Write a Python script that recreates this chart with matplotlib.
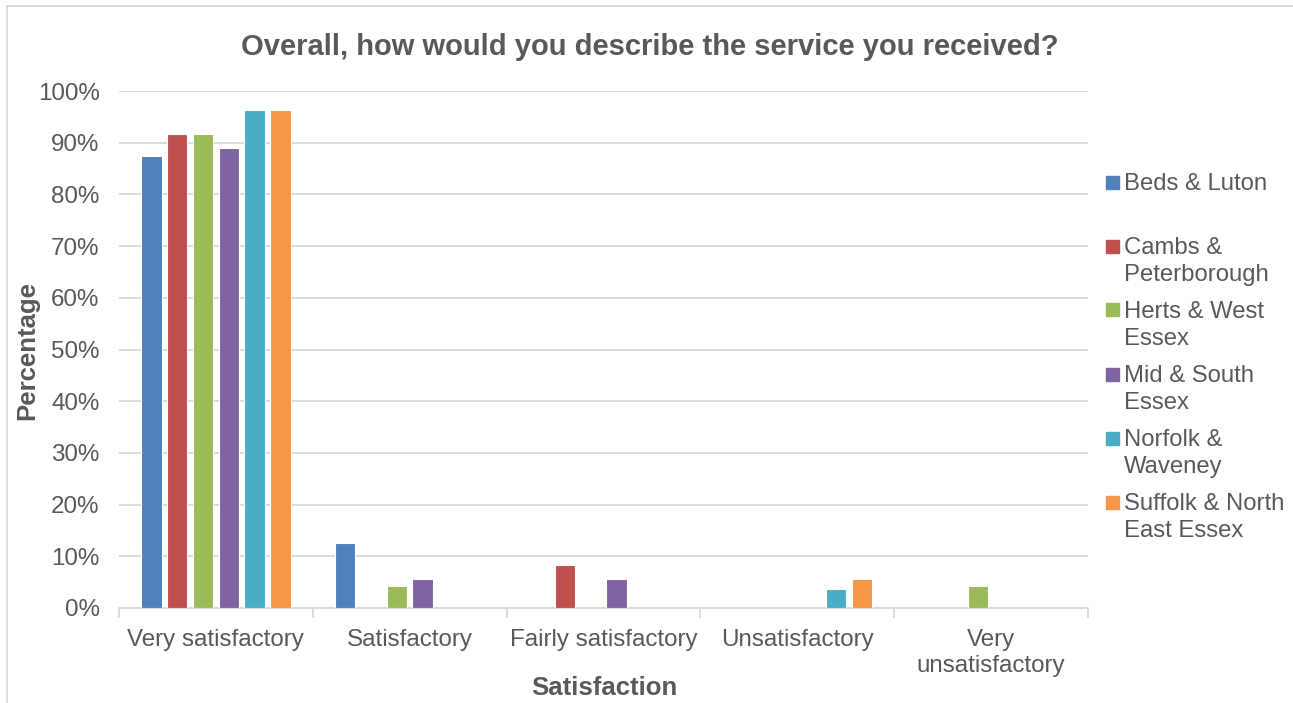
import numpy as np
import matplotlib
matplotlib.use("Agg")
from matplotlib import pyplot as plt
from matplotlib.patches import Rectangle
from matplotlib.lines import Line2D
from matplotlib.ticker import PercentFormatter, FixedLocator, NullFormatter

plt.rcParams['font.family'] = ['Liberation Sans', 'DejaVu Sans']

categories = ["Very satisfactory", "Satisfactory", "Fairly satisfactory",
              "Unsatisfactory", "Very\nunsatisfactory"]
regions = ["Beds & Luton", "Cambs & Peterborough", "Herts & West Essex",
           "Mid & South Essex", "Norfolk & Waveney", "Suffolk & North East Essex"]
legend_labels = ["Beds & Luton", "Cambs &\nPeterborough", "Herts & West\nEssex",
                 "Mid & South\nEssex", "Norfolk &\nWaveney", "Suffolk & North\nEast Essex"]
colors = ["#4F81BD", "#C0504D", "#9BBB59", "#8064A2", "#4BACC6", "#F79646"]

beds = [87.5, 12.5, 0, 0, 0]
cambs = [91.7, 0, 8.3, 0, 0]
herts = [91.7, 4.2, 0, 0, 4.2]
mid = [88.9, 5.6, 5.6, 0, 0]
norfolk = [96.3, 0, 0, 3.7, 0]
suffolk = [96.4, 0, 0, 5.6, 0]
series = [beds, cambs, herts, mid, norfolk, suffolk]

text_col = "#595959"
grid_col = "#D9D9D9"

W, H = 1293, 703
fig = plt.figure(figsize=(W / 100, H / 100), dpi=100)
ax = fig.add_axes([119 / W, 1 - 608 / H, (1088 - 119) / W, (608 - 91) / H])

x = np.arange(len(categories))
slot = 0.133
bar_w = 0.105
for i, (vals, c) in enumerate(zip(series, colors)):
    offs = (i - (len(series) - 1) / 2) * slot
    ax.bar(x + offs, vals, width=bar_w, color=c, edgecolor="white", linewidth=0.8, zorder=3)

ax.set_xlim(-0.5, len(categories) - 0.5)
ax.set_ylim(0, 100)
ax.set_yticks(np.arange(0, 101, 10))
ax.yaxis.set_major_formatter(PercentFormatter(decimals=0))
ax.grid(axis="y", color=grid_col, linewidth=1.3, zorder=0)
ax.tick_params(axis="y", length=0, labelsize=17.4, labelcolor=text_col, pad=14)

ax.set_xticks(x)
ax.set_xticklabels(categories, fontsize=17.4, color=text_col, linespacing=1.25)
ax.tick_params(axis="x", which="major", length=0, pad=15)
ax.xaxis.set_minor_locator(FixedLocator(np.arange(-0.5, len(categories), 1.0)))
ax.xaxis.set_minor_formatter(NullFormatter())
ax.tick_params(axis="x", which="minor", length=7, width=1.3, color=grid_col)

for s in ["top", "right", "left"]:
    ax.spines[s].set_visible(False)
ax.spines["bottom"].set_color(grid_col)
ax.spines["bottom"].set_linewidth(1.3)

fig.text(604 / W, 1 - 688 / H, "Satisfaction", fontsize=18.5, fontweight="bold",
         color=text_col, ha="center", va="center")
fig.text(27 / W, 1 - 350 / H, "Percentage", fontsize=18.5, fontweight="bold", color=text_col,
         rotation=90, ha="center", va="center")

fig.text(650 / W, 1 - 47 / H, "Overall, how would you describe the service you received?",
         fontsize=21, fontweight="bold", color=text_col, ha="center", va="center")

# legend drawn by hand so the swatch sits on the first line of each label
for i, (lab, c) in enumerate(zip(legend_labels, colors)):
    y_px = 182 + 64 * i
    fig.add_artist(Rectangle((1106 / W, 1 - (y_px + 6.5) / H), 13 / W, 13 / H,
                             transform=fig.transFigure, color=c))
    fig.text(1124 / W, 1 - (y_px - 9) / H, lab, fontsize=17.2, color=text_col,
             ha="left", va="top", linespacing=1.27)

# outer chart border
fig.add_artist(Line2D([7 / W, 7 / W], [0, 1 - 6 / H], transform=fig.transFigure,
                      color=grid_col, linewidth=1.3))
fig.add_artist(Line2D([7 / W, 1], [1 - 6 / H, 1 - 6 / H], transform=fig.transFigure,
                      color=grid_col, linewidth=1.3))

fig.savefig("out.png", dpi=100, facecolor="white")
